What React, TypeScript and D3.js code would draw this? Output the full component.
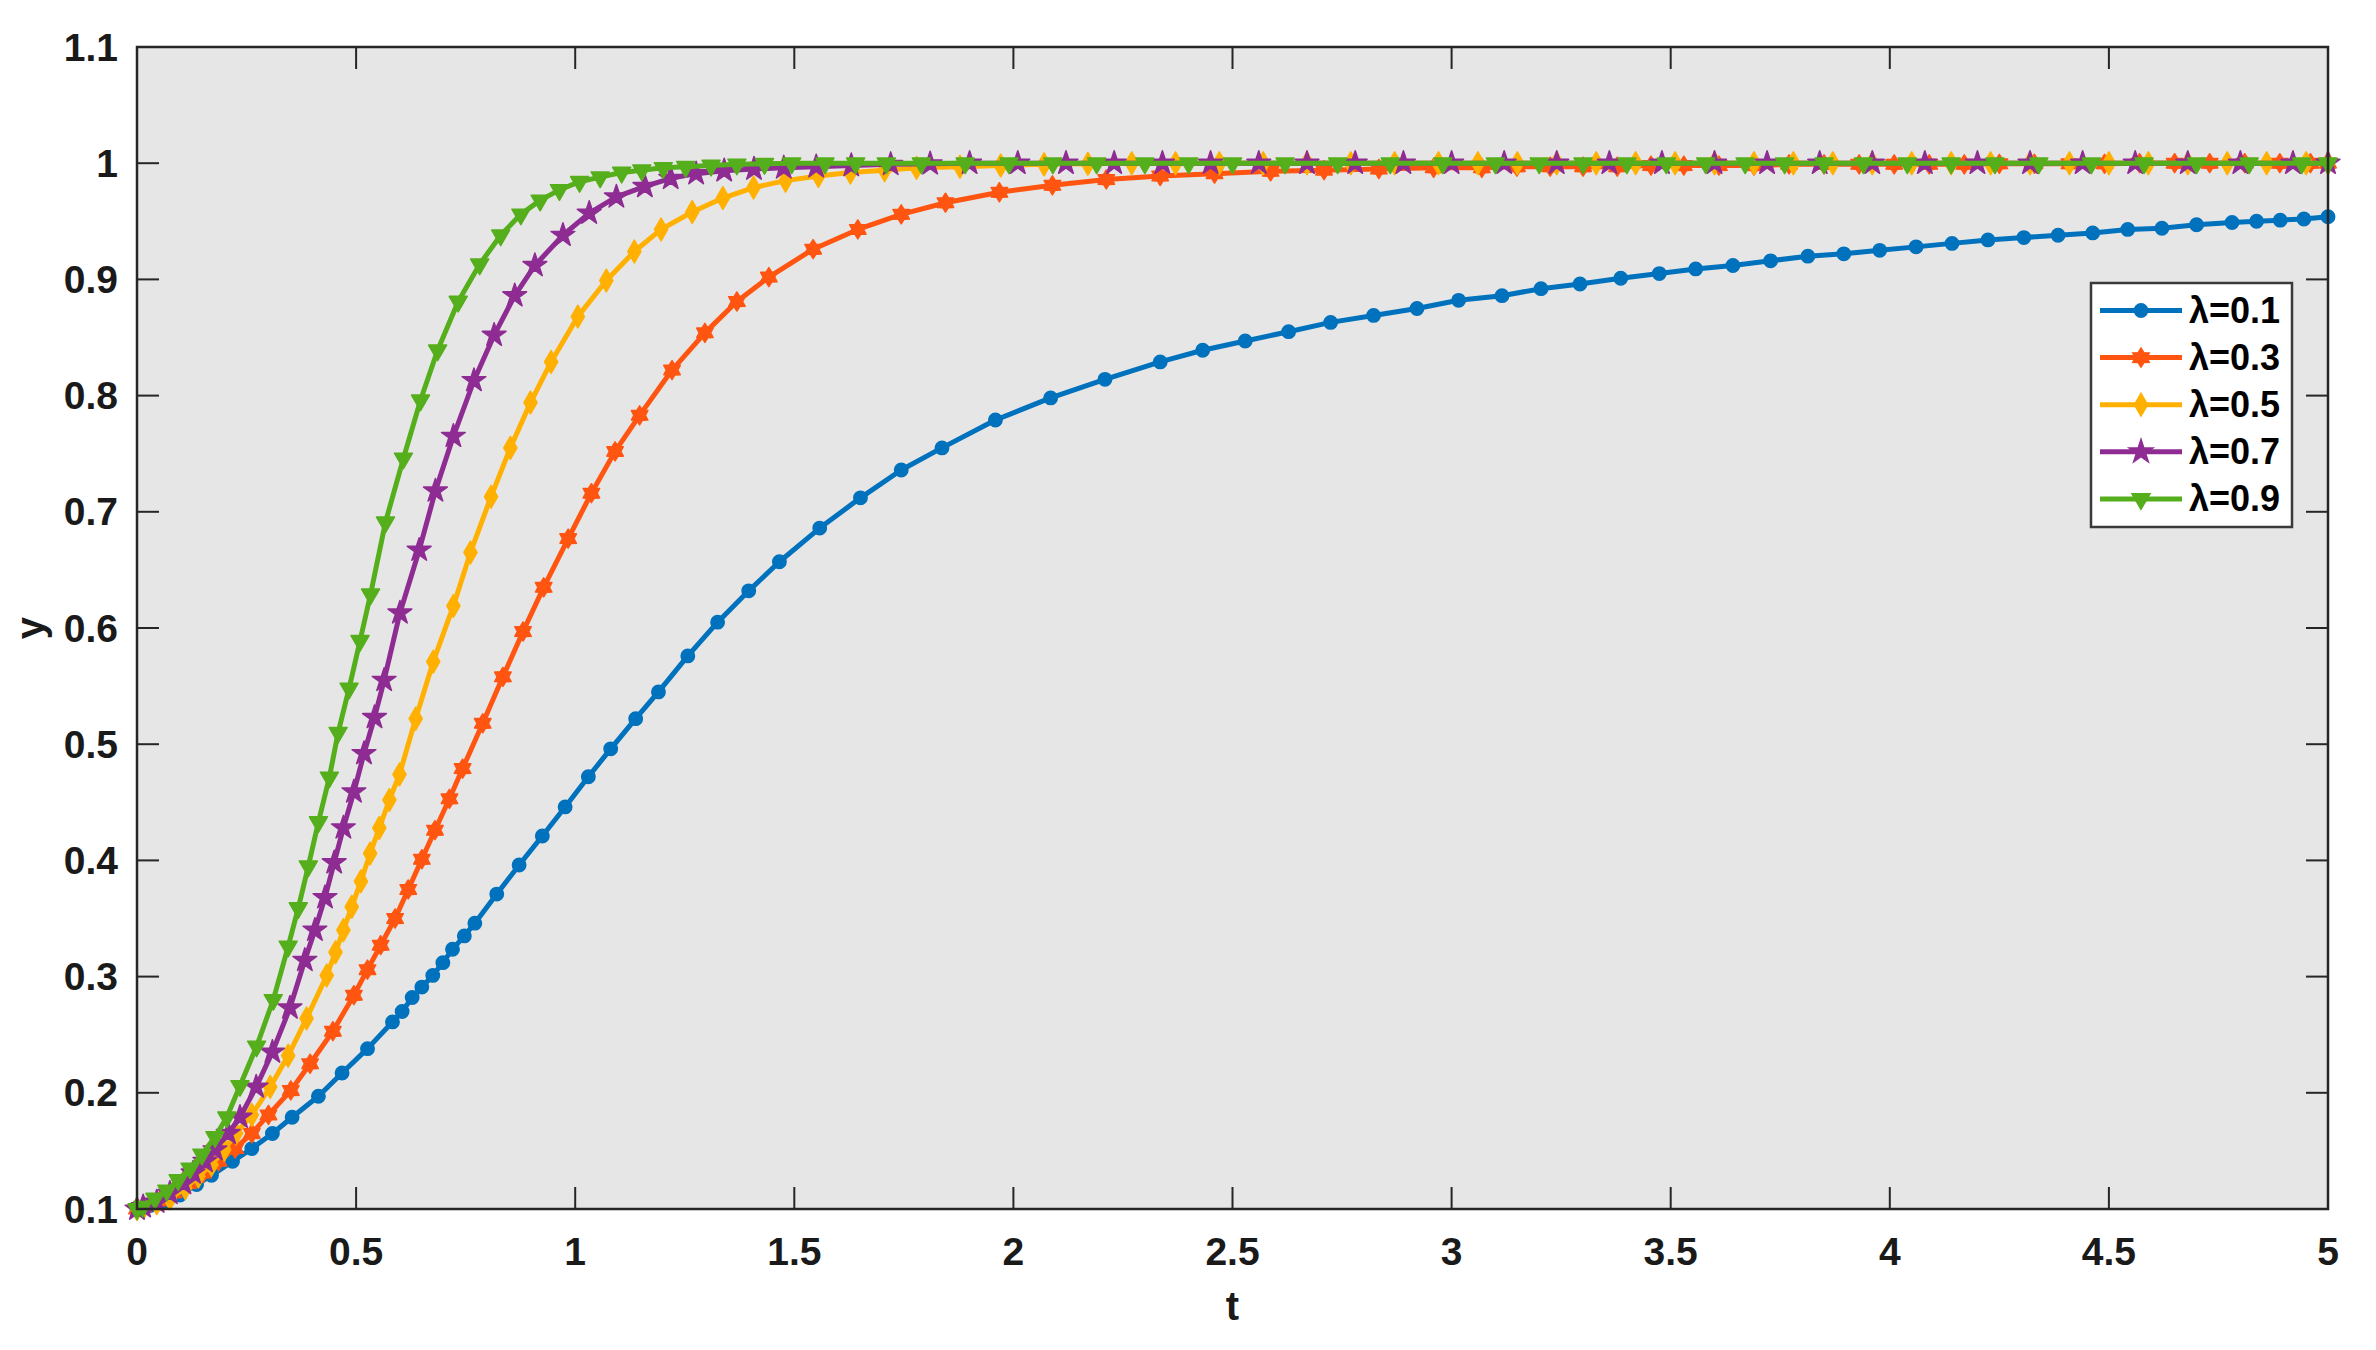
import React from "react";
import * as d3 from "d3";

type Pt = [number, number];

// ---- data (t, y) ----
const xTicks = [0, 0.5, 1, 1.5, 2, 2.5, 3, 3.5, 4, 4.5, 5];
const yTicks = [0.1, 0.2, 0.3, 0.4, 0.5, 0.6, 0.7, 0.8, 0.9, 1, 1.1];
const seriesNames = ["λ=0.1", "λ=0.3", "λ=0.5", "λ=0.7", "λ=0.9"];
const seriesColors = ["#0072BD", "#FF5511", "#FFB000", "#8E2C93", "#55AE1B"];

const lambda01: Pt[] = [
  [0, 0.1], [0.03, 0.103], [0.06, 0.106], [0.098, 0.112], [0.136, 0.121], [0.17, 0.129],
  [0.218, 0.141], [0.262, 0.152], [0.309, 0.165], [0.354, 0.179], [0.414, 0.197], [0.468, 0.217],
  [0.526, 0.238], [0.583, 0.261], [0.605, 0.27], [0.628, 0.282], [0.65, 0.291], [0.675, 0.301],
  [0.698, 0.312], [0.72, 0.3235], [0.747, 0.335], [0.771, 0.346], [0.821, 0.371], [0.872, 0.396],
  [0.925, 0.421], [0.977, 0.446], [1.03, 0.472], [1.081, 0.496], [1.138, 0.522], [1.19, 0.545],
  [1.257, 0.576], [1.325, 0.605], [1.396, 0.632], [1.466, 0.657], [1.558, 0.686], [1.651, 0.712],
  [1.744, 0.736], [1.837, 0.755], [1.959, 0.779], [2.085, 0.798], [2.209, 0.814], [2.335, 0.829],
  [2.432, 0.839], [2.529, 0.847], [2.628, 0.855], [2.724, 0.863], [2.822, 0.869], [2.921, 0.875],
  [3.016, 0.882], [3.115, 0.886], [3.204, 0.892], [3.293, 0.896], [3.386, 0.901], [3.474, 0.905],
  [3.557, 0.909], [3.642, 0.912], [3.728, 0.916], [3.813, 0.92], [3.895, 0.922], [3.977, 0.925],
  [4.06, 0.928], [4.142, 0.931], [4.224, 0.934], [4.306, 0.936], [4.384, 0.938], [4.463, 0.94],
  [4.543, 0.943], [4.621, 0.944], [4.7, 0.947], [4.781, 0.949], [4.837, 0.95], [4.891, 0.951],
  [4.945, 0.952], [5.0, 0.954],
];

const lambda03: Pt[] = [
  [0, 0.1], [0.014, 0.102], [0.052, 0.107], [0.083, 0.114], [0.117, 0.122], [0.151, 0.131],
  [0.186, 0.141], [0.224, 0.152], [0.262, 0.165], [0.3, 0.181], [0.351, 0.202], [0.395, 0.225],
  [0.447, 0.253], [0.495, 0.284], [0.526, 0.306], [0.556, 0.327], [0.589, 0.35], [0.619, 0.375],
  [0.65, 0.401], [0.68, 0.426], [0.713, 0.453], [0.743, 0.479], [0.789, 0.518], [0.835, 0.558],
  [0.881, 0.597], [0.928, 0.635], [0.984, 0.677], [1.037, 0.716], [1.091, 0.752], [1.147, 0.783],
  [1.221, 0.822], [1.296, 0.854], [1.369, 0.881], [1.442, 0.902], [1.543, 0.926], [1.645, 0.943],
  [1.744, 0.956], [1.845, 0.966], [1.968, 0.975], [2.089, 0.981], [2.212, 0.986], [2.335, 0.989],
  [2.459, 0.991], [2.587, 0.993], [2.709, 0.994], [2.834, 0.995], [2.959, 0.996], [3.069, 0.996],
  [3.149, 0.997], [3.225, 0.997], [3.3, 0.997], [3.378, 0.997], [3.455, 0.998], [3.53, 0.998],
  [3.61, 0.998], [3.69, 0.998], [3.77, 0.999], [3.85, 0.999], [3.93, 0.999], [4.01, 0.999],
  [4.09, 0.999], [4.17, 0.999], [4.25, 0.9995], [4.33, 0.9995], [4.41, 0.9995], [4.49, 0.9995],
  [4.57, 1.0], [4.65, 1.0], [4.73, 1.0], [4.81, 1.0], [4.89, 1.0], [4.96, 1.0], [5.0, 1.0],
];

const lambda05: Pt[] = [
  [0, 0.1], [0.015, 0.101], [0.045, 0.105], [0.075, 0.109], [0.11, 0.118], [0.14, 0.128],
  [0.17, 0.138], [0.199, 0.151], [0.226, 0.165], [0.262, 0.181], [0.304, 0.205], [0.345, 0.232],
  [0.387, 0.264], [0.433, 0.301], [0.453, 0.321], [0.471, 0.34], [0.49, 0.36], [0.511, 0.382],
  [0.532, 0.406], [0.553, 0.428], [0.576, 0.452], [0.599, 0.474], [0.636, 0.522], [0.676, 0.571],
  [0.722, 0.619], [0.761, 0.665], [0.808, 0.713], [0.852, 0.755], [0.898, 0.794], [0.945, 0.829],
  [1.006, 0.868], [1.071, 0.899], [1.135, 0.924], [1.196, 0.943], [1.267, 0.958], [1.337, 0.97],
  [1.407, 0.979], [1.48, 0.985], [1.555, 0.989], [1.628, 0.992], [1.706, 0.994], [1.779, 0.996],
  [1.878, 0.997], [1.971, 0.998], [2.07, 0.999], [2.17, 0.9995], [2.27, 1.0], [2.37, 1.0],
  [2.47, 1.0], [2.57, 1.0], [2.67, 1.0], [2.77, 1.0], [2.87, 1.0], [2.97, 1.0], [3.06, 1.0],
  [3.15, 1.0], [3.24, 1.0], [3.33, 1.0], [3.42, 1.0], [3.51, 1.0], [3.6, 1.0], [3.69, 1.0],
  [3.78, 1.0], [3.87, 1.0], [3.96, 1.0], [4.05, 1.0], [4.14, 1.0], [4.23, 1.0], [4.32, 1.0],
  [4.41, 1.0], [4.5, 1.0], [4.59, 1.0], [4.68, 1.0], [4.77, 1.0], [4.86, 1.0], [4.95, 1.0],
  [5.0, 1.0],
];

const lambda07: Pt[] = [
  [0, 0.1], [0.014, 0.102], [0.045, 0.106], [0.075, 0.1135], [0.106, 0.122], [0.128, 0.131],
  [0.155, 0.141], [0.178, 0.151], [0.208, 0.165], [0.235, 0.179], [0.272, 0.205], [0.309, 0.235],
  [0.349, 0.273], [0.383, 0.314], [0.406, 0.34], [0.429, 0.368], [0.45, 0.398], [0.471, 0.428],
  [0.495, 0.459], [0.518, 0.492], [0.542, 0.523], [0.564, 0.555], [0.6, 0.613], [0.644, 0.667],
  [0.681, 0.718], [0.722, 0.765], [0.769, 0.813], [0.815, 0.852], [0.862, 0.886], [0.908, 0.912],
  [0.972, 0.938], [1.032, 0.957], [1.094, 0.971], [1.159, 0.98], [1.218, 0.987], [1.276, 0.991],
  [1.34, 0.9935], [1.408, 0.995], [1.476, 0.996], [1.55, 0.997], [1.63, 0.998], [1.72, 0.999],
  [1.81, 0.9995], [1.9, 1.0], [2.01, 1.0], [2.12, 1.0], [2.23, 1.0], [2.34, 1.0], [2.45, 1.0],
  [2.56, 1.0], [2.67, 1.0], [2.78, 1.0], [2.89, 1.0], [3.0, 1.0], [3.12, 1.0], [3.24, 1.0],
  [3.36, 1.0], [3.48, 1.0], [3.6, 1.0], [3.72, 1.0], [3.84, 1.0], [3.96, 1.0], [4.08, 1.0],
  [4.2, 1.0], [4.32, 1.0], [4.44, 1.0], [4.56, 1.0], [4.68, 1.0], [4.8, 1.0], [4.92, 1.0],
  [5.0, 1.0],
];

const lambda09: Pt[] = [
  [0, 0.1], [0.013, 0.102], [0.041, 0.109], [0.068, 0.116], [0.094, 0.125], [0.121, 0.135],
  [0.148, 0.147], [0.178, 0.162], [0.205, 0.179], [0.235, 0.206], [0.273, 0.24], [0.311, 0.28],
  [0.345, 0.326], [0.368, 0.359], [0.391, 0.395], [0.414, 0.433], [0.439, 0.4715], [0.459, 0.51],
  [0.484, 0.548], [0.509, 0.589], [0.533, 0.629], [0.567, 0.691], [0.608, 0.746], [0.647, 0.796],
  [0.686, 0.839], [0.733, 0.881], [0.782, 0.913], [0.83, 0.938], [0.876, 0.956], [0.92, 0.968],
  [0.964, 0.977], [1.01, 0.984], [1.057, 0.988], [1.106, 0.992], [1.152, 0.994], [1.201, 0.996],
  [1.252, 0.997], [1.31, 0.998], [1.369, 0.999], [1.432, 0.9995], [1.494, 1.0], [1.57, 1.0],
  [1.64, 1.0], [1.71, 1.0], [1.79, 1.0], [1.89, 1.0], [1.99, 1.0], [2.09, 1.0], [2.19, 1.0],
  [2.3, 1.0], [2.4, 1.0], [2.5, 1.0], [2.62, 1.0], [2.74, 1.0], [2.86, 1.0], [2.98, 1.0],
  [3.1, 1.0], [3.2, 1.0], [3.3, 1.0], [3.4, 1.0], [3.49, 1.0], [3.58, 1.0], [3.67, 1.0],
  [3.76, 1.0], [3.85, 1.0], [3.94, 1.0], [4.04, 1.0], [4.14, 1.0], [4.24, 1.0], [4.34, 1.0],
  [4.46, 1.0], [4.58, 1.0], [4.7, 1.0], [4.82, 1.0], [4.94, 1.0], [5.0, 1.0],
];

const seriesData = [lambda01, lambda03, lambda05, lambda07, lambda09];

// ---- layout ----
const W = 2376;
const H = 1350;
const PL = 137, PR = 2328, PT = 47, PB = 1209;
const FONT = "'Liberation Sans', Arial, Helvetica, sans-serif";
const AXIS = "#262626";

function hexagramPath(R: number): string {
  const r = R * 0.6;
  const pts: string[] = [];
  for (let i = 0; i < 12; i++) {
    const a = (Math.PI / 6) * i - Math.PI / 2;
    const rad = i % 2 === 0 ? R : r;
    pts.push(`${(rad * Math.cos(a)).toFixed(2)},${(rad * Math.sin(a)).toFixed(2)}`);
  }
  return "M" + pts.join("L") + "Z";
}

const markerPaths: { d: string; rot: number }[] = [
  { d: d3.symbol(d3.symbolCircle, 140)() as string, rot: 0 },
  { d: hexagramPath(9.5), rot: 0 },
  { d: d3.symbol(d3.symbolDiamond, 150)() as string, rot: 0 },
  { d: d3.symbol(d3.symbolStar, 175)() as string, rot: 0 },
  { d: d3.symbol(d3.symbolTriangle, 140)() as string, rot: 180 },
];

export default function App() {
  const x = d3.scaleLinear().domain([0, 5]).range([PL, PR]);
  const y = d3.scaleLinear().domain([0.1, 1.1]).range([PB, PT]);
  const line = d3
    .line<Pt>()
    .x((d) => x(d[0]))
    .y((d) => y(d[1]));

  const tickLen = 22;
  const legX = 2091, legY = 283, legW = 201, legH = 244;
  const rowY = (i: number) => 310.5 + i * 47.1;

  return (
    <svg
      width={W}
      height={H}
      viewBox={`0 0 ${W} ${H}`}
      style={{ position: "absolute", left: 0, top: 0, background: "#fff" }}
      fontFamily={FONT}
    >
      <rect x={0} y={0} width={W} height={H} fill="#fff" />
      <rect x={PL} y={PT} width={PR - PL} height={PB - PT} fill="#e6e6e6" />

      {/* ticks */}
      <g stroke={AXIS} strokeWidth={2}>
        {xTicks.map((t) => (
          <g key={"xt" + t}>
            <line x1={x(t)} x2={x(t)} y1={PB} y2={PB - tickLen} />
            <line x1={x(t)} x2={x(t)} y1={PT} y2={PT + tickLen} />
          </g>
        ))}
        {yTicks.map((v) => (
          <g key={"yt" + v}>
            <line x1={PL} x2={PL + tickLen} y1={y(v)} y2={y(v)} />
            <line x1={PR} x2={PR - tickLen} y1={y(v)} y2={y(v)} />
          </g>
        ))}
      </g>

      {/* series */}
      {seriesData.map((data, i) => (
        <g key={"s" + i}>
          <path
            d={line(data) as string}
            fill="none"
            stroke={seriesColors[i]}
            strokeWidth={5}
            strokeLinejoin="round"
          />
          {data.map((d, j) => (
            <path
              key={j}
              d={markerPaths[i].d}
              transform={`translate(${x(d[0])},${y(d[1])}) rotate(${markerPaths[i].rot})`}
              fill={seriesColors[i]}
              stroke={seriesColors[i]}
              strokeWidth={1.5}
              strokeLinejoin="round"
            />
          ))}
        </g>
      ))}

      {/* axes box */}
      <rect
        x={PL}
        y={PT}
        width={PR - PL}
        height={PB - PT}
        fill="none"
        stroke={AXIS}
        strokeWidth={2.5}
      />

      {/* tick labels */}
      <g fontSize={39} fontWeight="bold" fill="#1a1a1a">
        {xTicks.map((t) => (
          <text key={"xl" + t} x={x(t)} y={1265} textAnchor="middle">
            {String(t)}
          </text>
        ))}
        {yTicks.map((v) => (
          <text
            key={"yl" + v}
            x={118}
            y={y(v)}
            textAnchor="end"
            dominantBaseline="central"
          >
            {String(Math.round(v * 10) / 10)}
          </text>
        ))}
      </g>

      {/* axis titles */}
      <text
        x={(PL + PR) / 2}
        y={1320}
        textAnchor="middle"
        fontSize={40}
        fontWeight="bold"
        fill="#1a1a1a"
      >
        t
      </text>
      <text
        transform={`translate(44,${(PT + PB) / 2}) rotate(-90)`}
        textAnchor="middle"
        fontSize={40}
        fontWeight="bold"
        fill="#1a1a1a"
      >
        y
      </text>

      {/* legend */}
      <rect x={legX} y={legY} width={legW} height={legH} fill="#fff" stroke="#3a3a3a" strokeWidth={2.5} />
      {seriesNames.map((name, i) => (
        <g key={"lg" + i}>
          <line
            x1={2100}
            x2={2182}
            y1={rowY(i)}
            y2={rowY(i)}
            stroke={seriesColors[i]}
            strokeWidth={5}
          />
          <path
            d={markerPaths[i].d}
            transform={`translate(2141,${rowY(i)}) rotate(${markerPaths[i].rot})`}
            fill={seriesColors[i]}
            stroke={seriesColors[i]}
            strokeWidth={1.5}
          />
          <text
            x={2189}
            y={rowY(i)}
            dominantBaseline="central"
            fontSize={36}
            fontWeight="bold"
            fill="#000"
          >
            {name}
          </text>
        </g>
      ))}
    </svg>
  );
}
